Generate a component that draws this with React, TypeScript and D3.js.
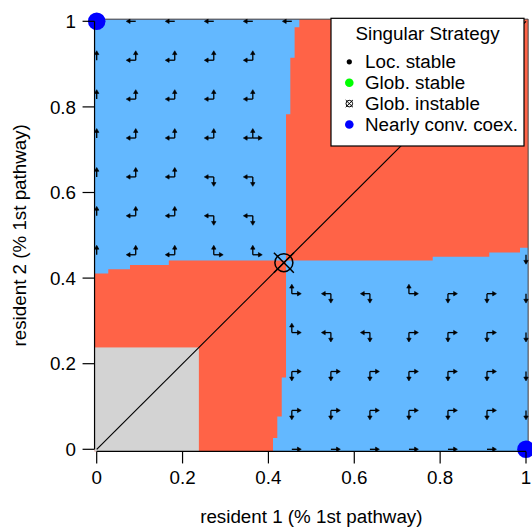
import React from 'react';
import * as d3 from 'd3';

const W = 532;
const H = 528;

// axis ticks
const xTicks = [0, 0.2, 0.4, 0.6, 0.8, 1];
const yTicks = [0, 0.2, 0.4, 0.6, 0.8, 1];
const tickLabels = ['0', '0.2', '0.4', '0.6', '0.8', '1'];

// image extent (grid cells reach half a cell past [0,1])
const extentLo = -0.005;
const extentHi = 1.005;

// gray (extinction) square: upper x, upper y
const grayUpper = [0.238, 0.238];

// Upper-left blue region: right edge steps [yFrom, xEdge]
const ulRight = [[0.441, 0.441], [0.783, 0.451], [0.915, 0.461], [0.986, 0.472]];
// Upper-left blue region: bottom edge steps [xFrom, yEdge]
const ulBottom = [[-0.005, 0.411], [0.027, 0.4206], [0.0776, 0.4306], [0.168, 0.441]];
// Lower-right blue region: top edge steps [xFrom, yEdge]
const lrTop = [[0.441, 0.441], [0.7827, 0.45], [0.9145, 0.4598], [0.986, 0.471]];
// Lower-right blue region: left edge steps [yFrom, xEdge]
const lrLeft = [[-0.005, 0.4107], [0.0264, 0.4207], [0.0766, 0.431], [0.168, 0.441]];

// arrow grid (both axes) and direction codes, rows from y = 1 down to y = 0
const arrowGrid = [0, 0.0909, 0.1818, 0.2727, 0.3636, 0.4545, 0.5455, 0.6364, 0.7273, 0.8182, 0.9091, 1];
const arrowRows = [
  '.LLLLL......',
  'Uaaaa.......',
  'Uaaaa.......',
  'Uaaae.......',
  'Uaabb.......',
  'Uaabb.......',
  'Uaacc......D',
  '.....cbbcddD',
  '.....cbbdddD',
  '.....ddddddD',
  '.....ddddddD',
  '.....RRRRRR.',
];
const arrowCodes: Record<string, number[][]> = {
  L: [[-1, 0]],
  R: [[1, 0]],
  U: [[0, 1]],
  D: [[0, -1]],
  a: [[-1, 0], [0, 1]],
  b: [[-1, 0], [0, -1]],
  c: [[1, 0], [0, 1]],
  d: [[1, 0], [0, -1]],
  e: [[-1, 0], [1, 0], [0, 1]],
};
const arrowLen = 0.022;

// singular strategy (glob. instable) and nearly convergent coexistence points
const singular = [[0.436, 0.436]];
const coexPoints = [[0, 1], [1, 0]];

// legend
const legendTitle = 'Singular Strategy';
const legendLabels = ['Loc. stable', 'Glob. stable', 'Glob. instable', 'Nearly conv. coex.'];
const legendKinds = ['dot', 'green', 'instable', 'blue'];

const BLUE = '#63B8FF';
const RED = '#FF6347';
const GRAY = '#D3D3D3';
const FONT = 'Liberation Sans, Arial, Helvetica, sans-serif';
const FS = 18.8;

const x = d3.scaleLinear().domain([0, 1]).range([96.7, 526]);
const y = d3.scaleLinear().domain([0, 1]).range([449.3, 21.3]);

function ulPolygon(): number[][] {
  const pts: number[][] = [[extentLo, extentHi]];
  const n = ulRight.length;
  for (let i = n - 1; i >= 0; i--) {
    pts.push([ulRight[i][1], i === n - 1 ? extentHi : ulRight[i + 1][0]]);
    pts.push([ulRight[i][1], ulRight[i][0]]);
  }
  const m = ulBottom.length;
  const cornerX = ulRight[0][1];
  for (let i = m - 1; i >= 0; i--) {
    pts.push([i === m - 1 ? cornerX : ulBottom[i + 1][0], ulBottom[i][1]]);
    pts.push([ulBottom[i][0], ulBottom[i][1]]);
  }
  return pts;
}

function lrPolygon(): number[][] {
  const pts: number[][] = [[extentHi, extentLo]];
  const n = lrTop.length;
  for (let i = n - 1; i >= 0; i--) {
    pts.push([i === n - 1 ? extentHi : lrTop[i + 1][0], lrTop[i][1]]);
    pts.push([lrTop[i][0], lrTop[i][1]]);
  }
  const m = lrLeft.length;
  const topY = lrTop[0][1];
  for (let i = m - 1; i >= 0; i--) {
    pts.push([lrLeft[i][1], i === m - 1 ? topY : lrLeft[i + 1][0]]);
    pts.push([lrLeft[i][1], lrLeft[i][0]]);
  }
  return pts;
}

const line = d3.line<number[]>().x((d) => x(d[0])).y((d) => y(d[1]));

function Arrow({ x0, y0, x1, y1 }: { x0: number; y0: number; x1: number; y1: number }) {
  const dx = x1 - x0;
  const dy = y1 - y0;
  const len = Math.hypot(dx, dy) || 1;
  const ux = dx / len;
  const uy = dy / len;
  const hl = 3.8;
  const hw = 2.2;
  const bx = x1 - ux * hl;
  const by = y1 - uy * hl;
  const head = `M${x1},${y1}L${bx - uy * hw},${by + ux * hw}L${bx + uy * hw},${by - ux * hw}Z`;
  return (
    <g>
      <line x1={x0} y1={y0} x2={bx + ux * 0.5} y2={by + uy * 0.5} stroke="#000" strokeWidth={1.3} />
      <path d={head} fill="#000" stroke="#000" strokeWidth={0.6} />
    </g>
  );
}

function CrossCircle({ cx, cy, r, arm, sw }: { cx: number; cy: number; r: number; arm: number; sw: number }) {
  return (
    <g fill="none" stroke="#000" strokeWidth={sw}>
      <circle cx={cx} cy={cy} r={r} />
      <line x1={cx - arm} y1={cy - arm} x2={cx + arm} y2={cy + arm} />
      <line x1={cx - arm} y1={cy + arm} x2={cx + arm} y2={cy - arm} />
    </g>
  );
}

export default function App() {
  const arrows: JSX.Element[] = [];
  arrowRows.forEach((row, ri) => {
    const yv = arrowGrid[arrowGrid.length - 1 - ri];
    row.split('').forEach((ch, ci) => {
      const comps = arrowCodes[ch];
      if (!comps) return;
      const xv = arrowGrid[ci];
      comps.forEach((c, k) => {
        arrows.push(
          <Arrow
            key={`${ri}-${ci}-${k}`}
            x0={x(xv)}
            y0={y(yv)}
            x1={x(xv + c[0] * arrowLen)}
            y1={y(yv + c[1] * arrowLen)}
          />
        );
      });
    });
  });

  const axisX = x(extentLo);
  const axisY = y(extentLo);
  const tickLen = 12;

  const legX0 = 331;
  const legX1 = 524;
  const legY0 = 18.3;
  const legY1 = 146;
  const legRow0 = 61.8;
  const legStep = 20.9;
  const legSymX = 349.3;
  const legTextX = 365;

  return (
    <svg
      width={W}
      height={H}
      viewBox={`0 0 ${W} ${H}`}
      style={{ position: 'absolute', left: 0, top: 0, display: 'block', background: '#fff' }}
      fontFamily={FONT}
    >
      {/* background (red) */}
      <rect
        x={x(extentLo)}
        y={y(extentHi)}
        width={x(extentHi) - x(extentLo)}
        height={y(extentLo) - y(extentHi)}
        fill={RED}
      />
      {/* gray square */}
      <rect
        x={x(extentLo)}
        y={y(grayUpper[1])}
        width={x(grayUpper[0]) - x(extentLo)}
        height={y(extentLo) - y(grayUpper[1])}
        fill={GRAY}
      />
      {/* blue regions */}
      <path d={line(ulPolygon()) + 'Z'} fill={BLUE} />
      <path d={line(lrPolygon()) + 'Z'} fill={BLUE} />
      {/* top/right frame edges */}
      <line x1={x(extentLo)} y1={y(extentHi)} x2={x(extentHi)} y2={y(extentHi)} stroke="#444" strokeWidth={1} />
      <line x1={x(extentHi)} y1={y(extentHi)} x2={x(extentHi)} y2={y(extentLo)} stroke="#444" strokeWidth={1} />

      {/* diagonal */}
      <line x1={x(0)} y1={y(0)} x2={x(1)} y2={y(1)} stroke="#000" strokeWidth={1.2} />

      {arrows}

      {singular.map((p, i) => (
        <CrossCircle key={i} cx={x(p[0])} cy={y(p[1])} r={9} arm={10} sw={1.5} />
      ))}

      {coexPoints.map((p, i) => (
        <circle key={i} cx={x(p[0])} cy={y(p[1])} r={8.8} fill="#0000FF" />
      ))}

      {/* axes */}
      <g stroke="#000" strokeWidth={1.2}>
        <line x1={axisX} y1={y(0)} x2={axisX} y2={y(1)} />
        <line x1={x(0)} y1={axisY} x2={x(1)} y2={axisY} />
        {yTicks.map((t) => (
          <line key={'yt' + t} x1={axisX - tickLen} y1={y(t)} x2={axisX} y2={y(t)} />
        ))}
        {xTicks.map((t) => (
          <line key={'xt' + t} x1={x(t)} y1={axisY} x2={x(t)} y2={axisY + tickLen} />
        ))}
      </g>
      <g fontSize={FS} fill="#000">
        {yTicks.map((t, i) => (
          <text key={'yl' + t} x={76} y={y(t) + 6.6} textAnchor="end">
            {tickLabels[i]}
          </text>
        ))}
        {xTicks.map((t, i) => (
          <text key={'xl' + t} x={x(t)} y={483.5} textAnchor="middle">
            {tickLabels[i]}
          </text>
        ))}
        <text x={(x(0) + x(1)) / 2} y={522.5} textAnchor="middle">
          resident 1 (% 1st pathway)
        </text>
        <text transform={`translate(26,${(y(0) + y(1)) / 2}) rotate(-90)`} textAnchor="middle">
          resident 2 (% 1st pathway)
        </text>
      </g>

      {/* legend */}
      <rect x={legX0} y={legY0} width={legX1 - legX0} height={legY1 - legY0} fill="#fff" stroke="#000" strokeWidth={1.2} />
      <g fontSize={FS} fill="#000">
        <text x={(legX0 + legX1) / 2} y={39.5} textAnchor="middle">
          {legendTitle}
        </text>
        {legendLabels.map((lab, i) => {
          const cy = legRow0 + i * legStep;
          const kind = legendKinds[i];
          let sym: JSX.Element;
          if (kind === 'dot') sym = <circle cx={legSymX} cy={cy} r={2.6} fill="#000" />;
          else if (kind === 'green') sym = <circle cx={legSymX} cy={cy} r={4.3} fill="#00FF00" />;
          else if (kind === 'blue') sym = <circle cx={legSymX} cy={cy} r={4.3} fill="#0000FF" />;
          else sym = <CrossCircle cx={legSymX} cy={cy} r={3.3} arm={3.6} sw={1} />;
          return (
            <g key={lab}>
              {sym}
              <text x={legTextX} y={cy + 6.5}>
                {lab}
              </text>
            </g>
          );
        })}
      </g>
    </svg>
  );
}
